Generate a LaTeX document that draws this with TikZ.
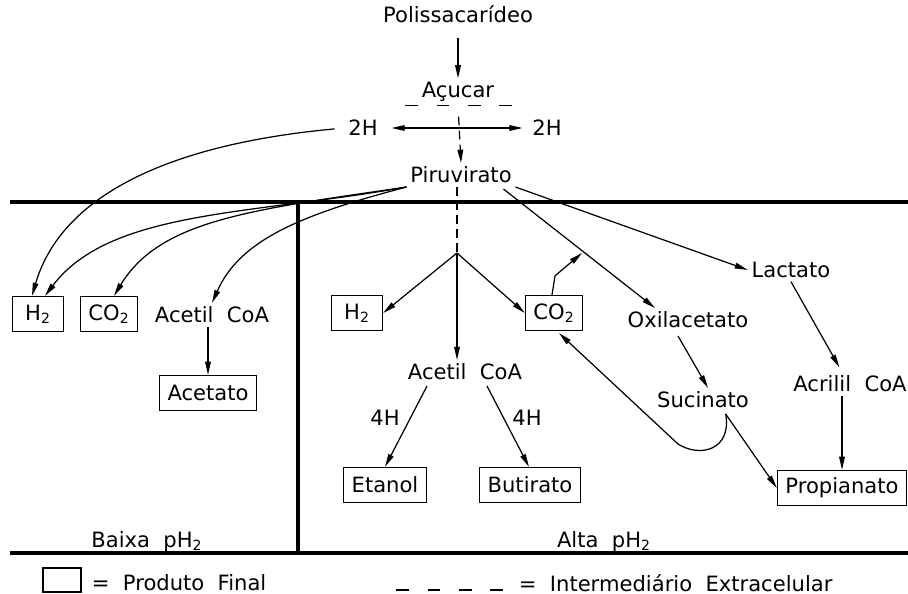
\documentclass[tikz,border=0pt]{standalone}
\usepackage{fontspec}
\setmainfont{DejaVu Sans}
\usetikzlibrary{arrows.meta,calc}
\tikzset{
  prod/.style={draw,line width=0.7pt,minimum width=1.02cm,minimum height=0.7cm,
    inner xsep=0.16cm,inner ysep=0pt},
  lbl/.style={inner sep=2pt},
  arr/.style={-{Triangle[length=7.5pt,width=3.2pt]},line width=0.7pt},
  arr_both/.style={{Triangle[length=7.5pt,width=3.2pt]}-{Triangle[length=7.5pt,width=3.2pt]},line width=0.7pt},
  wall/.style={line width=2pt},
  extra/.style={dash pattern=on 0.26cm off 0.37cm,line width=0.8pt},
}

\begin{document}
\begin{tikzpicture}[x=0.02cm,y=-0.02cm,font=\fontsize{12}{14}\selectfont,
    every node/.style={lbl}]
  \useasboundingbox (0,0) rectangle (908,594);

  \draw[wall] (10,202) -- (908,202);
  \draw[wall] (298,202) -- (298,553);
  \draw[wall] (10,553) -- (908,553);

  \node (poli) at (458,14) {Polissacarídeo};
  \node (acu) at (458,92) {Açucar};
  \node (twoHl) at (363,128) {2H};
  \node (twoHr) at (547,128) {2H};
  \node (piru) at (461,175) {Piruvirato};

  \node[prod] (h2a) at (38,314) {H\textsubscript{2}};
  \node[prod] (co2a) at (109,314) {CO\textsubscript{2}};
  \node (acea) at (212,315) {Acetil\ \ CoA};
  \node[prod] (acetato) at (208,393) {Acetato};

  \coordinate (fork) at (457,253);
  \node[prod] (h2b) at (357,313) {H\textsubscript{2}};
  \node[prod] (co2b) at (554,313) {CO\textsubscript{2}};
  \node (aceb) at (465,372) {Acetil\ \ CoA};
  \node (fourHa) at (385,418) {4H};
  \node (fourHb) at (527,418) {4H};
  \node[prod] (etanol) at (385,485) {Etanol};
  \node[prod] (butir) at (530,485) {Butirato};

  \node (lact) at (791,270) {Lactato};
  \node (oxi) at (688,320) {Oxilacetato};
  \node (suc) at (703,400) {Sucinato};
  \node (acril) at (850,384) {Acrilil\ \ CoA};
  \node[prod] (propi) at (842,488) {Propianato};
  \coordinate (fixco2) at (582,253);
  \coordinate (sucb) at ($(suc.south east)+(-27,2)$);

  \node (baixa) at (147,542) {Baixa\ \ pH\textsubscript{2}};
  \node (alta) at (604,542) {Alta\ \ pH\textsubscript{2}};

  \node[prod,minimum width=0.76cm,minimum height=0.48cm] (legbox) at (62,580) {};
  \node[anchor=west] (legprod) at (88,583) {=\ \ Produto\ \ Final};
  \node[anchor=west] (legint) at (515,583) {=\ \ Intermediário\ \ Extracelular};
  \draw[extra] (396,590) -- (503,590);

  % topo
  \draw[arr,shorten <=0.24cm] (poli.south) -- (acu.north);
  \draw[extra] ($(acu.south)+(-53,0)$) -- ($(acu.south)+(55,0)$);
  \draw[arr,dash pattern=on 5pt off 3pt,shorten <=0.22cm] (acu.south) -- (piru.north);
  \draw[arr_both,shorten <=0.2cm,shorten >=0.12cm] (twoHl.east) -- (twoHr.west);

  % baixa pH2
  \draw[arr,shorten <=0.2cm] (twoHl.west) .. controls (160,145) and (60,200) .. ($(h2a.north)+(-6,0)$);
  \draw[arr] (piru.south west) .. controls (250,215) and (110,210) .. ($(h2a.north)+(7,0)$);
  \draw[arr] (piru.south west) .. controls (250,210) and (160,220) .. ($(co2a.north)+(5,0)$);
  \draw[arr] (piru.south west) .. controls (300,215) and (240,240) .. (acea.north);
  \draw[arr] (acetato.north |- acea.south) -- (acetato.north);

  % alta pH2
  \draw[dash pattern=on 5pt off 3pt,line width=0.7pt] (piru.south -| fork) -- (fork);
  \draw[arr] (fork) -- (h2b.east);
  \draw[arr] (fork) -- (co2b.west);
  \draw[arr] (fork) -- (fork |- aceb.north);
  \draw[arr] ($(aceb.south)+(-38,2)$) -- (etanol.north);
  \draw[arr] ($(aceb.south)+(22,2)$) -- ($(butir.north)+(-1,0)$);
  \draw[arr] ($(co2b.north)+(-2,0)$) -- ++(3,-19) -- (fixco2);

  \draw[arr] (piru.south east) -- (lact.west);
  \draw[arr] ($(piru.south east)+(-12,2)$) -- ($(oxi.north)+(-33,0)$);
  \draw[arr] ($(oxi.south)+(-10,4)$) -- ($(suc.north)+(5,0)$);
  \draw[arr] (sucb) .. controls (732,450) and (700,458) .. (678,444) -- ($(co2b.south)+(5,2)$);
  \draw[arr] (sucb) -- (propi.west);
  \draw[arr,shorten >=3pt] (lact.south) -- (acril.north -| propi.north);
  \draw[arr] (acril.south -| propi.north) -- (propi.north);
\end{tikzpicture}
\end{document}
